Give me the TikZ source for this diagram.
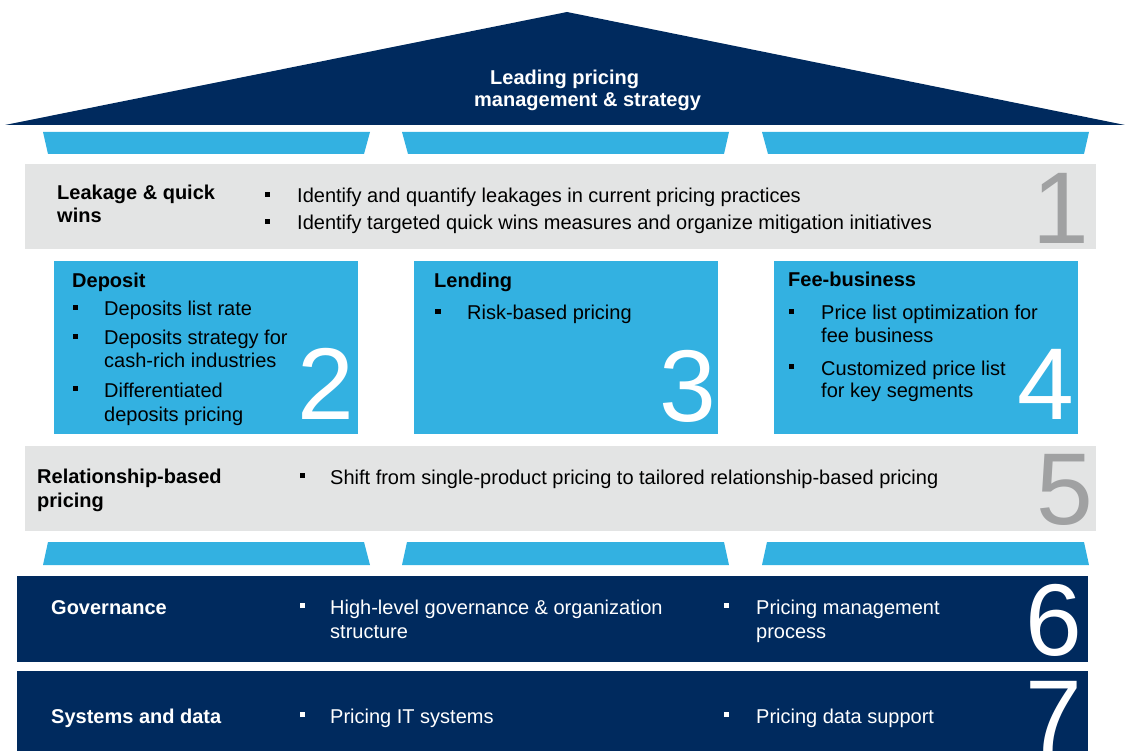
\documentclass[tikz,border=0pt]{standalone}
\usepackage{fontspec}
\setmainfont{Liberation Sans}
\definecolor{navy}{RGB}{0,42,94}
\definecolor{sky}{RGB}{51,177,225}
\definecolor{pale}{RGB}{227,228,228}
\definecolor{numgrey}{RGB}{160,161,162}
\tikzset{
  txt/.style={anchor=base west,inner sep=0pt,font=\fontsize{20}{24}\selectfont},
  hd/.style={txt,font=\fontsize{20}{24}\selectfont\bfseries},
  bul/.style={fill=black,inner sep=0pt,minimum size=5.5pt},
  num/.style={anchor=base east,inner sep=0pt,font=\fontsize{102}{102}\selectfont},
}
\begin{document}
\begin{tikzpicture}[x=1pt,y=-1pt]
      \useasboundingbox (0,0) rectangle (1125,751) ;
      % roof
      \fill[navy] (5,125) -- (567,12) -- (1125,125) -- cycle ;
      \node[hd,text=white] (roof1) at (490,85) {Leading pricing} ;
      \node[hd,text=white] (roof2) at (474,107) {management \& strategy} ;
      \fill[sky] (43,132) -- (370,132) -- (364,154) -- (48,154) -- cycle ;
      \fill[sky] (402,132) -- (729,132) -- (724,154) -- (408,154) -- cycle ;
      \fill[sky] (762,132) -- (1089,132) -- (1084,154) -- (768,154) -- cycle ;
      % 1
      \fill[pale] (25,164) rectangle (1096,249) ;
      \node[hd] (leak1) at (57,200) {Leakage \& quick} ;
      \node[hd] (leak2) at (57,223) {wins} ;
      \node[bul] (b11) at (267.5,194.5) {} ;
      \node[txt] (t11) at (297,203) {Identify and quantify leakages in current pricing practices} ;
      \node[bul] (b12) at (267.5,221.5) {} ;
      \node[txt] (t12) at (297,230) {Identify targeted quick wins measures and organize mitigation initiatives} ;
      \node[num,text=numgrey] (n1) at (1089,244) {1} ;
      % 2
      \fill[sky] (54,261) rectangle (358,434) ;
      \node[hd] (dep) at (72,288) {Deposit} ;
      \node[bul] (b21) at (75.5,307.5) {} ;
      \node[txt] (t21) at (104,316) {Deposits list rate} ;
      \node[bul] (b22) at (75.5,336.5) {} ;
      \node[txt] (t22) at (104,345) {Deposits strategy for} ;
      \node[txt] (t22b) at (104,368) {cash-rich industries} ;
      \node[bul] (b23) at (75.5,388.5) {} ;
      \node[txt] (t23) at (104,397) {Differentiated} ;
      \node[txt] (t23b) at (104,421) {deposits pricing} ;
      \node[num,text=white] (n2) at (354,420) {2} ;
      % 3
      \fill[sky] (414,261) rectangle (718,434) ;
      \node[hd] (lend) at (434,288) {Lending} ;
      \node[bul] (b31) at (438,311.5) {} ;
      \node[txt] (t31) at (467,320) {Risk-based pricing} ;
      \node[num,text=white] (n3) at (716,421) {3} ;
      % 4
      \fill[sky] (774,261) rectangle (1078,434) ;
      \node[hd] (fee) at (788,287) {Fee-business} ;
      \node[bul] (b41) at (791.5,311.5) {} ;
      \node[txt] (t41) at (821,320) {Price list optimization for} ;
      \node[txt] (t41b) at (821,343) {fee business} ;
      \node[bul] (b42) at (791.5,366.5) {} ;
      \node[txt] (t42) at (821,375) {Customized price list} ;
      \node[txt] (t42b) at (821,398) {for key segments} ;
      \node[num,text=white] (n4) at (1074,419) {4} ;
      % 5
      \fill[pale] (25,446) rectangle (1096,531) ;
      \node[hd] (rel1) at (37,483) {Relationship-based} ;
      \node[hd] (rel2) at (37,507) {pricing} ;
      \node[bul] (b51) at (302.5,475.5) {} ;
      \node[txt] (t51) at (330,484) {Shift from single-product pricing to tailored relationship-based pricing} ;
      \node[num,text=numgrey] (n5) at (1093,524) {5} ;
      % foundation
      \fill[sky] (48,542) -- (364,542) -- (370,565) -- (43,565) -- cycle ;
      \fill[sky] (407,542) -- (724,542) -- (729,565) -- (402,565) -- cycle ;
      \fill[sky] (767,542) -- (1084,542) -- (1089,565) -- (762,565) -- cycle ;
      % 6
      \fill[navy] (17,576) rectangle (1088,662) ;
      \node[hd,text=white] (gov) at (51,614) {Governance} ;
      \node[bul,fill=white] (b61) at (302.5,605.5) {} ;
      \node[txt,text=white] (t61) at (330,614) {High-level governance \& organization} ;
      \node[txt,text=white] (t61b) at (330,638) {structure} ;
      \node[bul,fill=white] (b62) at (726.5,605.5) {} ;
      \node[txt,text=white] (t62) at (756,614) {Pricing management} ;
      \node[txt,text=white] (t62b) at (756,638) {process} ;
      \node[num,text=white] (n6) at (1082,655) {6} ;
      % 7
      \fill[navy] (17,671) rectangle (1088,760) ;
      \node[hd,text=white] (sys) at (51,723) {Systems and data} ;
      \node[bul,fill=white] (b71) at (302.5,714.5) {} ;
      \node[txt,text=white] (t71) at (330,723) {Pricing IT systems} ;
      \node[bul,fill=white] (b72) at (726.5,714.5) {} ;
      \node[txt,text=white] (t72) at (756,723) {Pricing data support} ;
      \node[num,text=white] (n7) at (1082,751) {7} ;
    \end{tikzpicture}
\end{document}
